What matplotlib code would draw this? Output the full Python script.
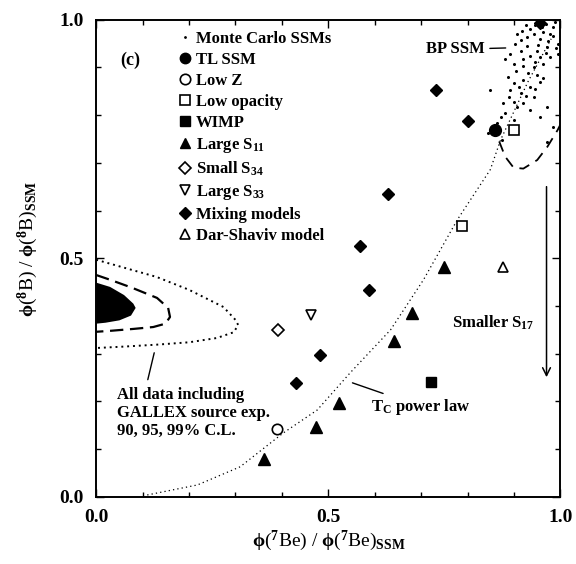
import numpy as np
import matplotlib
matplotlib.use('Agg')
matplotlib.rc('font', family='Liberation Serif', weight='bold', size=12)
matplotlib.rc('mathtext', fontset='custom', rm='Liberation Serif:bold',
              it='Liberation Serif:bold', bf='Liberation Serif:bold', default='rm')
import matplotlib.pyplot as plt
from matplotlib.lines import Line2D

# model points
tl_ssm = ([0.858], [0.769])
low_z = ([0.390], [0.143])
low_opacity = ([0.899, 0.789], [0.769, 0.568])
wimp = ([0.722], [0.241])
large_s11 = ([0.362, 0.474, 0.522, 0.642, 0.681, 0.750],
             [0.080, 0.147, 0.197, 0.327, 0.386, 0.482])
small_s34 = ([0.391], [0.349])
large_s33 = ([0.463], [0.382])
mixing = ([0.957, 0.731, 0.800, 0.629, 0.569, 0.588, 0.483, 0.431],
          [0.994, 0.853, 0.788, 0.635, 0.526, 0.434, 0.298, 0.239])
dar_shaviv = ([0.877], [0.482])

# Monte Carlo SSM cloud (BP SSM)
mc_x = [0.907, 0.918, 0.929, 0.942, 0.957, 0.963, 0.974, 0.985, 0.983, 0.994,
        0.892, 0.914, 0.935, 0.950, 0.899, 0.920, 0.942, 0.963, 0.978, 0.881,
        0.994, 0.957, 0.929, 0.972, 0.903, 0.886, 0.899, 0.920, 0.950, 0.963,
        0.935, 0.892, 0.914, 0.942, 0.877, 0.899, 0.920, 0.907, 0.881, 0.935,
        0.972, 0.864, 0.899, 0.957, 0.849, 0.871, 0.983, 0.843, 0.972, 0.875,
        0.925, 0.945, 0.968, 0.988, 0.915, 0.952, 0.990, 0.935, 0.960, 0.978,
        0.920, 0.946, 0.968, 0.905, 0.930, 0.955, 0.910, 0.925, 0.890, 0.945]
mc_y = [0.971, 0.977, 0.964, 0.971, 0.960, 0.975, 0.956, 0.966, 0.985, 0.950,
        0.929, 0.935, 0.925, 0.935, 0.908, 0.904, 0.901, 0.908, 0.922, 0.918,
        0.929, 0.922, 0.945, 0.943, 0.950, 0.881, 0.868, 0.874, 0.885, 0.878,
        0.860, 0.853, 0.847, 0.839, 0.826, 0.828, 0.826, 0.818, 0.805, 0.811,
        0.818, 0.784, 0.790, 0.797, 0.853, 0.797, 0.776, 0.763, 0.744, 0.748,
        0.990, 0.988, 0.992, 0.995, 0.958, 0.948, 0.940, 0.980, 0.985, 0.970,
        0.918, 0.912, 0.930, 0.893, 0.888, 0.870, 0.860, 0.840, 0.838, 0.855]

# T_C power law curve
tc_x = [0.110, 0.218, 0.310, 0.403, 0.476, 0.547, 0.634, 0.705, 0.778, 0.849, 0.871, 0.93, 0.98]
tc_y = [0.004, 0.025, 0.063, 0.134, 0.182, 0.260, 0.350, 0.455, 0.581, 0.686, 0.748, 0.87, 0.96]

# data contours (90, 95, 99% C.L.)
c90_x = [0, 0.03, 0.06, 0.08, 0.085, 0.075, 0.05, 0.02, 0]
c90_y = [0.449, 0.440, 0.423, 0.405, 0.396, 0.380, 0.370, 0.365, 0.363]
c95_x = [0, 0.03, 0.078, 0.131, 0.155, 0.159, 0.149, 0.123, 0.080, 0.030, 0]
c95_y = [0.465, 0.455, 0.438, 0.417, 0.396, 0.377, 0.363, 0.356, 0.352, 0.348, 0.346]
c99_x = [0, 0.065, 0.13, 0.20, 0.274, 0.300, 0.306, 0.296, 0.26, 0.20, 0.13, 0.06, 0]
c99_y = [0.497, 0.479, 0.461, 0.434, 0.398, 0.371, 0.360, 0.345, 0.333, 0.324, 0.319, 0.315, 0.312]

# dashed contour near the SSM
ssm_x = [0.868, 0.881, 0.899, 0.920, 0.950, 0.972, 0.994, 1.01]
ssm_y = [0.745, 0.713, 0.690, 0.688, 0.706, 0.734, 0.769, 0.80]


def main():
    fig = plt.figure(figsize=(5.76, 5.64), dpi=100)
    ax = fig.add_axes([0.167, 0.119, 0.806, 0.846])

    ax.fill(c90_x, c90_y, color='k', lw=0)
    ax.plot(c95_x, c95_y, color='k', lw=1.6, dashes=(6, 3))
    ax.plot(c99_x, c99_y, color='k', lw=1.4, ls=(0, (1, 2)))
    ax.plot(tc_x, tc_y, color='k', lw=0.9, ls=(0, (1, 2.5)))
    ax.plot(ssm_x, ssm_y, color='k', lw=1.3, dashes=(6, 4))
    ax.plot(mc_x, mc_y, 'k.', ms=2.4)

    ms = 7.5
    ax.plot(*tl_ssm, 'ko', ms=ms + 1)
    ax.plot(*low_z, 'o', mfc='w', mec='k', mew=1.2, ms=ms)
    ax.plot(*low_opacity, 's', mfc='w', mec='k', mew=1.2, ms=ms)
    ax.plot(*wimp, 'ks', ms=ms)
    ax.plot(*large_s11, 'k^', ms=ms + 1)
    ax.plot(*small_s34, 'D', mfc='w', mec='k', mew=1.2, ms=ms - 1)
    ax.plot(*large_s33, 'v', mfc='w', mec='k', mew=1.2, ms=ms)
    ax.plot(*mixing, 'kD', ms=ms - 1)
    ax.plot(*dar_shaviv, '^', mfc='w', mec='k', mew=1.2, ms=ms)

    handles = [
        Line2D([], [], ls='', marker='.', color='k', ms=2),
        Line2D([], [], ls='', marker='o', color='k', ms=ms),
        Line2D([], [], ls='', marker='o', mfc='w', mec='k', mew=1.2, ms=ms),
        Line2D([], [], ls='', marker='s', mfc='w', mec='k', mew=1.2, ms=ms),
        Line2D([], [], ls='', marker='s', color='k', ms=ms),
        Line2D([], [], ls='', marker='^', color='k', ms=ms),
        Line2D([], [], ls='', marker='D', mfc='w', mec='k', mew=1.2, ms=ms - 1.5),
        Line2D([], [], ls='', marker='v', mfc='w', mec='k', mew=1.2, ms=ms),
        Line2D([], [], ls='', marker='D', color='k', ms=ms - 1),
        Line2D([], [], ls='', marker='^', mfc='w', mec='k', mew=1.2, ms=ms),
    ]
    labels = ['Monte Carlo SSMs', 'TL SSM', 'Low Z', 'Low opacity', 'WIMP',
              r'Large S$_{11}$', r'Small S$_{34}$', r'Large S$_{33}$',
              'Mixing models', 'Dar-Shaviv model']
    ax.legend(handles, labels, loc='upper left', bbox_to_anchor=(0.177, 0.977),
              frameon=False, borderpad=0, borderaxespad=0, handlelength=0.8,
              handletextpad=0.25, labelspacing=0.3, fontsize=12)

    ax.text(0.052, 0.915, '(c)', fontsize=13, ha='left', va='center')
    ax.annotate('BP SSM', xy=(0.888, 0.941), xytext=(0.836, 0.938),
                fontsize=12, ha='right', va='center',
                arrowprops=dict(arrowstyle='-', color='k', lw=1))
    ax.annotate('', xy=(0.970, 0.245), xytext=(0.970, 0.656),
                arrowprops=dict(arrowstyle='->', color='k', lw=1.1,
                                mutation_scale=14))
    ax.text(0.856, 0.365, r'Smaller S$_{17}$', fontsize=12, ha='center', va='center')
    ax.annotate(r'T$_{C}$ power law', xy=(0.552, 0.239), xytext=(0.593, 0.189),
                fontsize=12, ha='left', va='center',
                arrowprops=dict(arrowstyle='-', color='k', lw=1,
                                shrinkA=1, shrinkB=0))
    ax.annotate('All data including\nGALLEX source exp.\n90, 95, 99% C.L.',
                xy=(0.125, 0.302), xytext=(0.045, 0.176), fontsize=12,
                ha='left', va='center', linespacing=1.2,
                arrowprops=dict(arrowstyle='-', color='k', lw=1,
                                relpos=(0.19, 1.0), shrinkA=3, shrinkB=0))

    ax.set_xlim(0, 1)
    ax.set_ylim(0, 1)
    ax.set_xticks([0, 0.5, 1.0])
    ax.set_yticks([0, 0.5, 1.0])
    ax.set_xticklabels(['0.0', '0.5', '1.0'])
    ax.set_yticklabels(['0.0', '0.5', '1.0'])
    ax.set_xticks(np.arange(0.1, 1.0, 0.1), minor=True)
    ax.set_yticks(np.arange(0.1, 1.0, 0.1), minor=True)
    ax.tick_params(which='both', direction='in', top=True, right=True,
                   labelsize=14, width=1)
    ax.tick_params(which='major', length=6, pad=9)
    ax.tick_params(which='minor', length=3.5)
    for s in ax.spines.values():
        s.set_linewidth(1.4)

    ax.set_xlabel(r'$\phi$($^{7}$Be) / $\phi$($^{7}$Be)$_{SSM}$', fontsize=14)
    ax.set_ylabel(r'$\phi$($^{8}$B) / $\phi$($^{8}$B)$_{SSM}$', fontsize=14)
    ax.xaxis.set_label_coords(0.5, -0.066)
    ax.yaxis.set_label_coords(-0.12, 0.52)

    fig.savefig('out.png', dpi=100)


if __name__ == '__main__':
    main()
